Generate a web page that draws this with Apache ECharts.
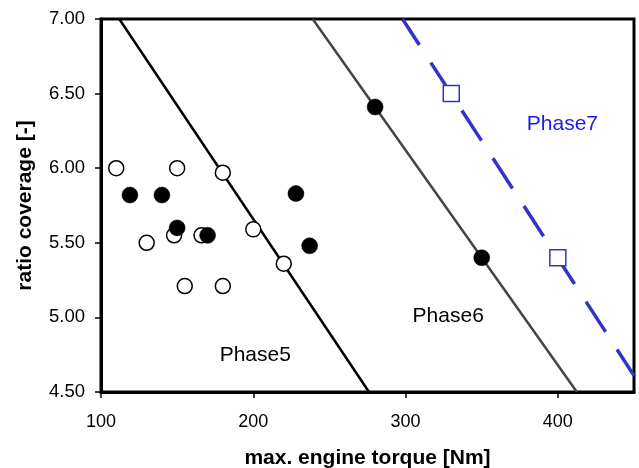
<!DOCTYPE html>
<html><head><meta charset="utf-8">
<script src="https://cdn.jsdelivr.net/npm/echarts@6/dist/echarts.min.js"></script>
<style>html,body{margin:0;padding:0;background:#fff}#c{width:639px;height:468px}</style>
</head><body><div id="c"></div>
<script>
var xTicks = [100, 200, 300, 400];
var yTicks = [4.5, 5.0, 5.5, 6.0, 6.5, 7.0];
var openCircles = [[110,6.00],[150,6.00],[180,5.97],[130,5.50],[148,5.55],[166,5.55],[200,5.59],[220,5.36],[155,5.21],[180,5.21]];
var filledCircles = [[119,5.82],[140,5.82],[228,5.83],[150,5.60],[170,5.55],[237,5.48],[280,6.41],[350,5.40]];
var openSquares = [[330,6.50],[400,5.40]];
var phase5Line = [[112,7.0],[276,4.5]];
var phase6Line = [[239,7.0],[412.5,4.5]];
var phase7Line = [[298,7.0],[450,4.61]];
var phaseLabels = [[201.3,4.745,'Phase5'],[328,5.01,'Phase6'],[403,6.296,'Phase7']];
var phaseColors = ['#000000','#000000','#1a1aee'];

var font = '"Liberation Sans", Arial, sans-serif';
var chart = echarts.init(document.getElementById('c'), null, {renderer:'canvas'});
chart.setOption({
  animation:false,
  backgroundColor:'#fff',
  grid:{left:101,right:5,top:19,bottom:76,containLabel:false,outerBoundsMode:'none',show:true,borderColor:'#000',borderWidth:3,backgroundColor:'transparent'},
  xAxis:{type:'value',min:100,max:450,interval:100,
    name:'max. engine torque [Nm]',nameLocation:'middle',nameGap:56,
    nameTextStyle:{fontFamily:font,fontSize:21,fontWeight:'bold',color:'#000'},
    axisLine:{show:true,lineStyle:{color:'#000',width:3}},
    axisTick:{show:true,inside:false,length:6,lineStyle:{color:'#000',width:1.5},customValues:xTicks},
    axisLabel:{fontFamily:font,fontSize:18,color:'#000',margin:21,customValues:xTicks},
    splitLine:{show:false}},
  yAxis:{type:'value',min:4.5,max:7,interval:0.5,
    name:'ratio coverage [-]',nameLocation:'middle',nameGap:65,nameRotate:90,
    nameTextStyle:{fontFamily:font,fontSize:21,fontWeight:'bold',color:'#000'},
    axisLine:{show:true,lineStyle:{color:'#000',width:3}},
    axisTick:{show:true,inside:false,length:6,lineStyle:{color:'#000',width:1.5},customValues:yTicks},
    axisLabel:{fontFamily:font,fontSize:18.5,color:'#000',margin:16,customValues:yTicks,formatter:function(v){return v.toFixed(2);}},
    splitLine:{show:false}},
  series:[
    {type:'line',data:phase5Line,symbol:'none',lineStyle:{color:'#000',width:2.5},z:2},
    {type:'line',data:phase6Line,symbol:'none',lineStyle:{color:'#444444',width:2.5},z:2},
    {type:'line',data:phase7Line,symbol:'none',lineStyle:{color:'#3333cc',width:3.5,type:[36,21],dashOffset:5},z:2},
    {type:'scatter',data:openCircles,symbol:'circle',symbolSize:15,itemStyle:{color:'#fff',borderColor:'#000',borderWidth:1.5,opacity:1},z:3},
    {type:'scatter',data:filledCircles,symbol:'circle',symbolSize:16,itemStyle:{color:'#000',borderColor:'#000',borderWidth:0.5,opacity:1},z:4},
    {type:'scatter',data:openSquares,symbol:'rect',symbolSize:16,itemStyle:{color:'#fff',borderColor:'#3333cc',borderWidth:1.5,opacity:1},z:4},
    {type:'scatter',symbolSize:0,z:5,silent:true,itemStyle:{opacity:1},
      data:phaseLabels.map(function(d,i){return {value:[d[0],d[1]],label:{show:true,formatter:d[2],position:'inside',color:phaseColors[i],fontFamily:font,fontSize:21}};})}
  ]
});
</script></body></html>
